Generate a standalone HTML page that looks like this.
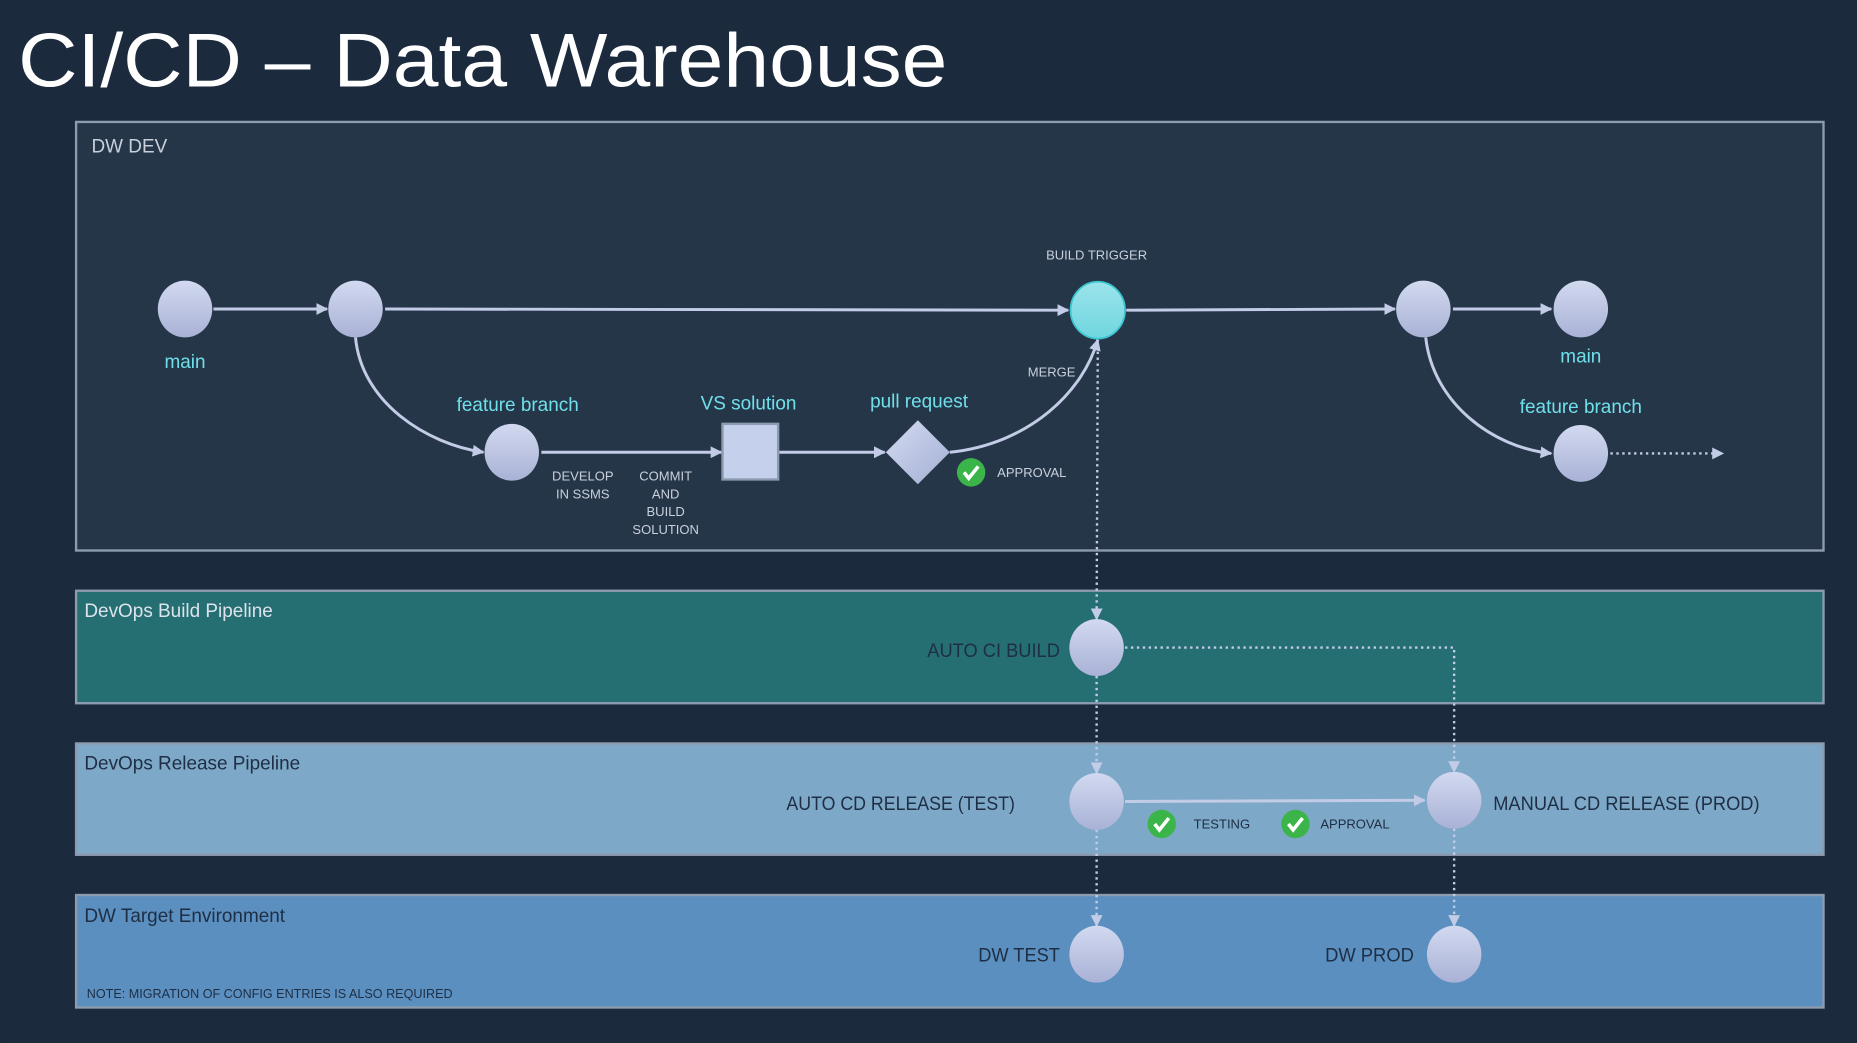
<!DOCTYPE html>
<html><head><meta charset="utf-8"><style>
html,body{margin:0;padding:0;background:#1b2a3d;}
svg{display:block;}
text{font-family:"Liberation Sans","DejaVu Sans",sans-serif;}
</style></head><body>
<svg width="1857" height="1043" viewBox="0 0 1568 881" xmlns="http://www.w3.org/2000/svg">
<defs>
<linearGradient id="g" x1="0" y1="0" x2="0" y2="1"><stop offset="0" stop-color="#d2d9f0"/><stop offset="1" stop-color="#a9b2d6"/></linearGradient>
<linearGradient id="c" x1="0" y1="0" x2="0" y2="1"><stop offset="0" stop-color="#9be4ea"/><stop offset="1" stop-color="#6fd6e0"/></linearGradient>
<linearGradient id="d" x1="0" y1="0" x2="1" y2="1"><stop offset="0" stop-color="#d4dbf1"/><stop offset="1" stop-color="#a3aed3"/></linearGradient>
<marker id="a" markerWidth="10" markerHeight="10" refX="9" refY="5" orient="auto" markerUnits="userSpaceOnUse"><path d="M0,0 L10,5 L0,10 z" fill="#c3cce6"/></marker>
</defs>
<rect width="1568" height="881" fill="#1b2a3d"/>
<text x="15" y="73" font-size="64" fill="#fff" textLength="785" lengthAdjust="spacingAndGlyphs">CI/CD – Data Warehouse</text>

<rect x="64" y="103" width="1476" height="362" fill="#263649" stroke="#8d9bb0" stroke-width="2"/>
<text x="77" y="129" font-size="16" fill="#c8d0dc">DW DEV</text>
<rect x="64" y="499" width="1476" height="95" fill="#256e72" stroke="#8d9bb0" stroke-width="2"/>
<text x="71" y="521" font-size="16" fill="#dde3ec">DevOps Build Pipeline</text>
<rect x="64" y="628" width="1476" height="94" fill="#7ea8c8" stroke="#8d9bb0" stroke-width="2"/>
<text x="71" y="650" font-size="16" fill="#1e2e44">DevOps Release Pipeline</text>
<rect x="64" y="756" width="1476" height="95" fill="#5b8fc0" stroke="#8d9bb0" stroke-width="2"/>
<text x="71" y="779" font-size="16" fill="#1e2e44">DW Target Environment</text>
<text x="73" y="843" font-size="11" fill="#1e2e44" textLength="309" lengthAdjust="spacingAndGlyphs">NOTE: MIGRATION OF CONFIG ENTRIES IS ALSO REQUIRED</text>

<g stroke="#c3cce6" stroke-width="2.5" fill="none">
<line x1="180" y1="261" x2="276" y2="261" marker-end="url(#a)"/>
<line x1="325" y1="261" x2="902" y2="262" marker-end="url(#a)"/>
<line x1="951" y1="262" x2="1178" y2="261" marker-end="url(#a)"/>
<line x1="1227" y1="261" x2="1310" y2="261" marker-end="url(#a)"/>
<path d="M300,285 C305,340 360,375 408,382" marker-end="url(#a)"/>
<line x1="457" y1="382" x2="609" y2="382" marker-end="url(#a)"/>
<line x1="658" y1="382" x2="747" y2="382" marker-end="url(#a)"/>
<path d="M802,382 C870,375 915,330 927,287" marker-end="url(#a)"/>
<path d="M1204,285 C1210,340 1260,378 1310,383" marker-end="url(#a)"/>
<line x1="950" y1="677" x2="1203" y2="676" marker-end="url(#a)"/>
</g>
<g stroke="#c3cce6" stroke-width="2" fill="none" stroke-dasharray="2,3">
<line x1="1360" y1="383" x2="1455" y2="383" marker-end="url(#a)"/>
<line x1="927" y1="292" x2="926" y2="523" marker-end="url(#a)"/>
<polyline points="950,547 1228,547 1228,652" marker-end="url(#a)"/>
<line x1="926" y1="571" x2="926" y2="653" marker-end="url(#a)"/>
<line x1="926" y1="701" x2="926" y2="782" marker-end="url(#a)"/>
<line x1="1228" y1="700" x2="1228" y2="782" marker-end="url(#a)"/>
</g>

<g fill="url(#g)">
<ellipse cx="156" cy="261" rx="23" ry="24"/>
<ellipse cx="300" cy="261" rx="23" ry="24"/>
<ellipse cx="432" cy="382" rx="23" ry="24"/>
<ellipse cx="1202" cy="261" rx="23" ry="24"/>
<ellipse cx="1335" cy="261" rx="23" ry="24"/>
<ellipse cx="1335" cy="383" rx="23" ry="24"/>
<ellipse cx="926" cy="547" rx="23" ry="24"/>
<ellipse cx="926" cy="677" rx="23" ry="24"/>
<ellipse cx="1228" cy="676" rx="23" ry="24"/>
<ellipse cx="926" cy="806" rx="23" ry="24"/>
<ellipse cx="1228" cy="806" rx="23" ry="24"/>
</g>
<ellipse cx="927" cy="262" rx="23" ry="24" fill="url(#c)" stroke="#3cc6cf" stroke-width="1.5"/>
<rect x="610" y="358" width="47" height="47" fill="#c5d0ec" stroke="#8d9bb0" stroke-width="2"/>
<polygon points="775,355 802,382 775,409 748,382" fill="url(#d)"/>

<g>
<circle cx="820" cy="399" r="12" fill="#3bb54a"/><path d="M814,399 l4,5 l8,-10" stroke="#fff" stroke-width="3" fill="none"/>
<circle cx="981" cy="696" r="12" fill="#3bb54a"/><path d="M975,696 l4,5 l8,-10" stroke="#fff" stroke-width="3" fill="none"/>
<circle cx="1094" cy="696" r="12" fill="#3bb54a"/><path d="M1088,696 l4,5 l8,-10" stroke="#fff" stroke-width="3" fill="none"/>
</g>

<g font-size="16" fill="#6fe0ea" text-anchor="middle">
<text x="156" y="311">main</text>
<text x="437" y="347">feature branch</text>
<text x="632" y="346">VS solution</text>
<text x="776" y="344">pull request</text>
<text x="1335" y="306">main</text>
<text x="1335" y="349">feature branch</text>
</g>
<g font-size="11" fill="#c8d0dc">
<text x="926" y="219" text-anchor="middle">BUILD TRIGGER</text>
<text x="888" y="318" text-anchor="middle">MERGE</text>
<text x="842" y="403">APPROVAL</text>
<text x="492" y="406" text-anchor="middle">DEVELOP</text>
<text x="492" y="421" text-anchor="middle">IN SSMS</text>
<text x="562" y="406" text-anchor="middle">COMMIT</text>
<text x="562" y="421" text-anchor="middle">AND</text>
<text x="562" y="436" text-anchor="middle">BUILD</text>
<text x="562" y="451" text-anchor="middle">SOLUTION</text>
</g>
<g font-size="11" fill="#1e2e44">
<text x="1008" y="700">TESTING</text>
<text x="1115" y="700">APPROVAL</text>
</g>
<g font-size="16" fill="#1e2e44">
<text x="783" y="555" textLength="112" lengthAdjust="spacingAndGlyphs">AUTO CI BUILD</text>
<text x="664" y="684" textLength="193" lengthAdjust="spacingAndGlyphs">AUTO CD RELEASE (TEST)</text>
<text x="1261" y="684" textLength="225" lengthAdjust="spacingAndGlyphs">MANUAL CD RELEASE (PROD)</text>
<text x="826" y="812" textLength="69" lengthAdjust="spacingAndGlyphs">DW TEST</text>
<text x="1119" y="812" textLength="75" lengthAdjust="spacingAndGlyphs">DW PROD</text>
</g>
</svg>
</body></html>
